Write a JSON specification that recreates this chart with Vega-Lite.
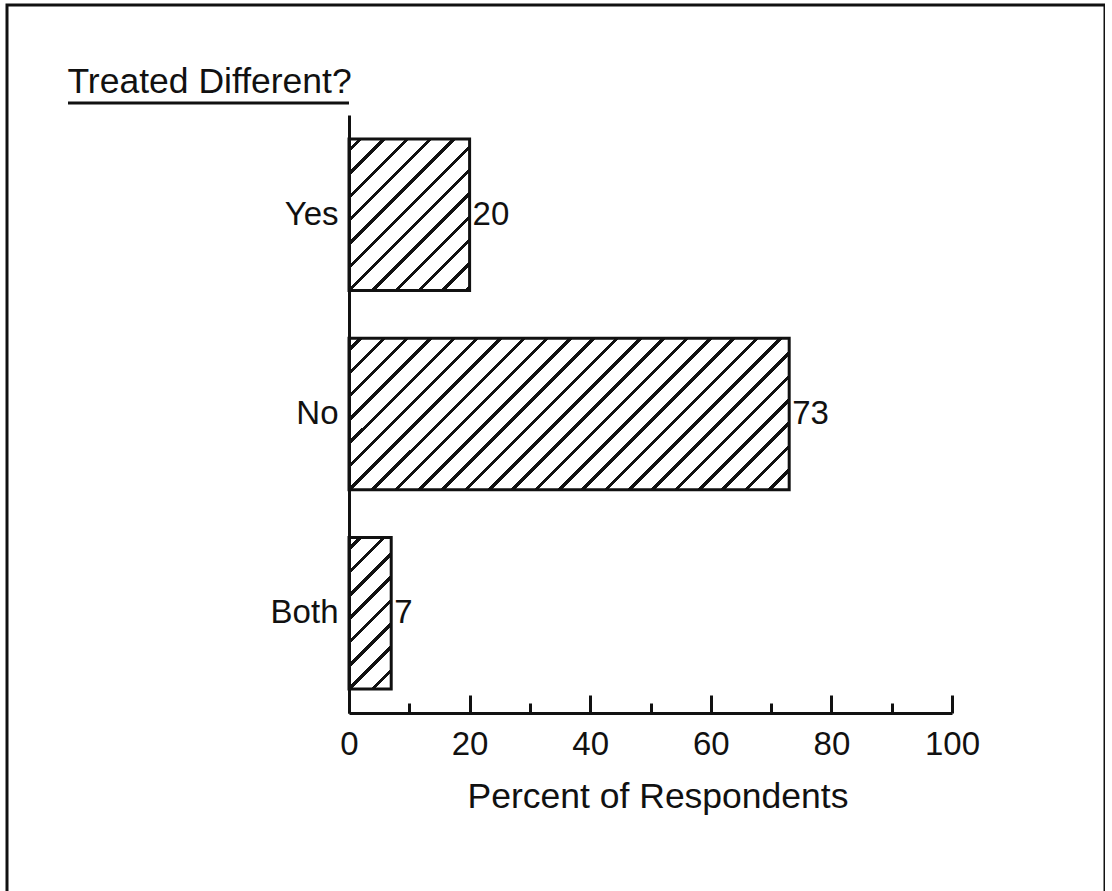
{
  "$schema": "https://vega.github.io/schema/vega-lite/v6.json",
  "width": 1098,
  "height": 888,
  "autosize": {"type": "none"},
  "padding": {"left": 7, "top": 5, "right": 0, "bottom": 0},
  "background": "white",
  "config": {
    "font": "Liberation Sans",
    "view": {"stroke": "#111", "strokeWidth": 3}
  },
  "data": {
    "values": [
      {"answer": "Yes", "pct": 20},
      {"answer": "No", "pct": 73},
      {"answer": "Both", "pct": 7}
    ]
  },
  "layer": [
    {
      "data": {"values": [{"underline": "title"}]},
      "mark": {"type": "rule", "stroke": "#111", "strokeWidth": 3},
      "encoding": {
        "x": {"datum": -46.6, "type": "quantitative"},
        "x2": {"datum": 0},
        "y": {"value": 98}
      }
    },
    {
      "encoding": {
        "x": {
          "field": "pct",
          "type": "quantitative",
          "scale": {"domain": [0, 100], "range": [342, 945], "nice": false, "zero": true},
          "axis": {
            "title": "Percent of Respondents",
            "titleFontSize": 35.5,
            "titleFontWeight": "normal",
            "titleColor": "#111",
            "titleBaseline": "alphabetic",
            "titleAlign": "center",
            "titleX": 650.5,
            "titleY": 94,
            "values": [0, 10, 20, 30, 40, 50, 60, 70, 80, 90, 100],
            "labelExpr": "datum.value % 20 === 0 ? datum.label : ''",
            "labelFontSize": 33,
            "labelColor": "#111",
            "labelBaseline": "alphabetic",
            "labelPadding": 59,
            "labelFlush": false,
            "labelOverlap": false,
            "tickSize": {"condition": {"test": "datum.value % 20 === 0", "value": -18}, "value": -10},
            "tickWidth": 3,
            "tickColor": "#111",
            "domainWidth": 3,
            "domainColor": "#111",
            "grid": false,
            "offset": -180,
            "orient": "bottom",
            "zindex": 1
          }
        },
        "y": {
          "field": "answer",
          "type": "nominal",
          "sort": ["Yes", "No", "Both"],
          "scale": {"range": [110, 708], "paddingInner": 0.24, "paddingOuter": 0.12},
          "axis": {
            "title": "Treated Different?",
            "titleAngle": 0,
            "titleAlign": "left",
            "titleBaseline": "alphabetic",
            "titleX": -282,
            "titleY": 87,
            "titleFontSize": 35.5,
            "titleFontWeight": "normal",
            "titleColor": "#111",
            "labelFontSize": 33,
            "labelColor": "#111",
            "labelPadding": 11,
            "ticks": false,
            "domainWidth": 3,
            "domainColor": "#111",
            "grid": false,
            "offset": -342,
            "orient": "left",
            "zindex": 1
          }
        }
      },
      "layer": [
        {
          "transform": [{"filter": "datum.answer === 'Yes'"}],
          "mark": {
            "type": "bar",
            "stroke": "#111",
            "strokeWidth": 3,
            "fill": {
              "gradient": "linear", "x1": 0, "y1": 0, "x2": 0.9006, "y2": 1.1313,
              "stops": [
                {"offset": 0.0337, "color": "#fff"}, {"offset": 0.0337, "color": "#111"}, {"offset": 0.0497, "color": "#111"}, {"offset": 0.0497, "color": "#fff"},
                {"offset": 0.1170, "color": "#fff"}, {"offset": 0.1170, "color": "#111"}, {"offset": 0.1330, "color": "#111"}, {"offset": 0.1330, "color": "#fff"},
                {"offset": 0.2003, "color": "#fff"}, {"offset": 0.2003, "color": "#111"}, {"offset": 0.2163, "color": "#111"}, {"offset": 0.2163, "color": "#fff"},
                {"offset": 0.2837, "color": "#fff"}, {"offset": 0.2837, "color": "#111"}, {"offset": 0.2997, "color": "#111"}, {"offset": 0.2997, "color": "#fff"},
                {"offset": 0.3670, "color": "#fff"}, {"offset": 0.3670, "color": "#111"}, {"offset": 0.3830, "color": "#111"}, {"offset": 0.3830, "color": "#fff"},
                {"offset": 0.4503, "color": "#fff"}, {"offset": 0.4503, "color": "#111"}, {"offset": 0.4663, "color": "#111"}, {"offset": 0.4663, "color": "#fff"},
                {"offset": 0.5337, "color": "#fff"}, {"offset": 0.5337, "color": "#111"}, {"offset": 0.5497, "color": "#111"}, {"offset": 0.5497, "color": "#fff"},
                {"offset": 0.6170, "color": "#fff"}, {"offset": 0.6170, "color": "#111"}, {"offset": 0.6330, "color": "#111"}, {"offset": 0.6330, "color": "#fff"},
                {"offset": 0.7003, "color": "#fff"}, {"offset": 0.7003, "color": "#111"}, {"offset": 0.7163, "color": "#111"}, {"offset": 0.7163, "color": "#fff"},
                {"offset": 0.7837, "color": "#fff"}, {"offset": 0.7837, "color": "#111"}, {"offset": 0.7997, "color": "#111"}, {"offset": 0.7997, "color": "#fff"},
                {"offset": 0.8670, "color": "#fff"}, {"offset": 0.8670, "color": "#111"}, {"offset": 0.8830, "color": "#111"}, {"offset": 0.8830, "color": "#fff"},
                {"offset": 0.9503, "color": "#fff"}, {"offset": 0.9503, "color": "#111"}, {"offset": 0.9663, "color": "#111"}, {"offset": 0.9663, "color": "#fff"}
              ]
            }
          }
        },
        {
          "transform": [{"filter": "datum.answer === 'No'"}],
          "mark": {
            "type": "bar",
            "stroke": "#111",
            "strokeWidth": 3,
            "fill": {
              "gradient": "linear", "x1": 0, "y1": 0, "x2": 1.2321, "y2": 0.4241,
              "stops": [
                {"offset": 0.0155, "color": "#fff"}, {"offset": 0.0155, "color": "#111"}, {"offset": 0.0229, "color": "#111"}, {"offset": 0.0229, "color": "#fff"},
                {"offset": 0.0540, "color": "#fff"}, {"offset": 0.0540, "color": "#111"}, {"offset": 0.0614, "color": "#111"}, {"offset": 0.0614, "color": "#fff"},
                {"offset": 0.0925, "color": "#fff"}, {"offset": 0.0925, "color": "#111"}, {"offset": 0.0999, "color": "#111"}, {"offset": 0.0999, "color": "#fff"},
                {"offset": 0.1309, "color": "#fff"}, {"offset": 0.1309, "color": "#111"}, {"offset": 0.1383, "color": "#111"}, {"offset": 0.1383, "color": "#fff"},
                {"offset": 0.1694, "color": "#fff"}, {"offset": 0.1694, "color": "#111"}, {"offset": 0.1768, "color": "#111"}, {"offset": 0.1768, "color": "#fff"},
                {"offset": 0.2078, "color": "#fff"}, {"offset": 0.2078, "color": "#111"}, {"offset": 0.2152, "color": "#111"}, {"offset": 0.2152, "color": "#fff"},
                {"offset": 0.2463, "color": "#fff"}, {"offset": 0.2463, "color": "#111"}, {"offset": 0.2537, "color": "#111"}, {"offset": 0.2537, "color": "#fff"},
                {"offset": 0.2848, "color": "#fff"}, {"offset": 0.2848, "color": "#111"}, {"offset": 0.2922, "color": "#111"}, {"offset": 0.2922, "color": "#fff"},
                {"offset": 0.3232, "color": "#fff"}, {"offset": 0.3232, "color": "#111"}, {"offset": 0.3306, "color": "#111"}, {"offset": 0.3306, "color": "#fff"},
                {"offset": 0.3617, "color": "#fff"}, {"offset": 0.3617, "color": "#111"}, {"offset": 0.3691, "color": "#111"}, {"offset": 0.3691, "color": "#fff"},
                {"offset": 0.4001, "color": "#fff"}, {"offset": 0.4001, "color": "#111"}, {"offset": 0.4075, "color": "#111"}, {"offset": 0.4075, "color": "#fff"},
                {"offset": 0.4386, "color": "#fff"}, {"offset": 0.4386, "color": "#111"}, {"offset": 0.4460, "color": "#111"}, {"offset": 0.4460, "color": "#fff"},
                {"offset": 0.4771, "color": "#fff"}, {"offset": 0.4771, "color": "#111"}, {"offset": 0.4845, "color": "#111"}, {"offset": 0.4845, "color": "#fff"},
                {"offset": 0.5155, "color": "#fff"}, {"offset": 0.5155, "color": "#111"}, {"offset": 0.5229, "color": "#111"}, {"offset": 0.5229, "color": "#fff"},
                {"offset": 0.5540, "color": "#fff"}, {"offset": 0.5540, "color": "#111"}, {"offset": 0.5614, "color": "#111"}, {"offset": 0.5614, "color": "#fff"},
                {"offset": 0.5925, "color": "#fff"}, {"offset": 0.5925, "color": "#111"}, {"offset": 0.5999, "color": "#111"}, {"offset": 0.5999, "color": "#fff"},
                {"offset": 0.6309, "color": "#fff"}, {"offset": 0.6309, "color": "#111"}, {"offset": 0.6383, "color": "#111"}, {"offset": 0.6383, "color": "#fff"},
                {"offset": 0.6694, "color": "#fff"}, {"offset": 0.6694, "color": "#111"}, {"offset": 0.6768, "color": "#111"}, {"offset": 0.6768, "color": "#fff"},
                {"offset": 0.7078, "color": "#fff"}, {"offset": 0.7078, "color": "#111"}, {"offset": 0.7152, "color": "#111"}, {"offset": 0.7152, "color": "#fff"},
                {"offset": 0.7463, "color": "#fff"}, {"offset": 0.7463, "color": "#111"}, {"offset": 0.7537, "color": "#111"}, {"offset": 0.7537, "color": "#fff"},
                {"offset": 0.7848, "color": "#fff"}, {"offset": 0.7848, "color": "#111"}, {"offset": 0.7922, "color": "#111"}, {"offset": 0.7922, "color": "#fff"},
                {"offset": 0.8232, "color": "#fff"}, {"offset": 0.8232, "color": "#111"}, {"offset": 0.8306, "color": "#111"}, {"offset": 0.8306, "color": "#fff"},
                {"offset": 0.8617, "color": "#fff"}, {"offset": 0.8617, "color": "#111"}, {"offset": 0.8691, "color": "#111"}, {"offset": 0.8691, "color": "#fff"},
                {"offset": 0.9001, "color": "#fff"}, {"offset": 0.9001, "color": "#111"}, {"offset": 0.9075, "color": "#111"}, {"offset": 0.9075, "color": "#fff"},
                {"offset": 0.9386, "color": "#fff"}, {"offset": 0.9386, "color": "#111"}, {"offset": 0.9460, "color": "#111"}, {"offset": 0.9460, "color": "#fff"},
                {"offset": 0.9771, "color": "#fff"}, {"offset": 0.9771, "color": "#111"}, {"offset": 0.9845, "color": "#111"}, {"offset": 0.9845, "color": "#fff"}
              ]
            }
          }
        },
        {
          "transform": [{"filter": "datum.answer === 'Both'"}],
          "mark": {
            "type": "bar",
            "stroke": "#111",
            "strokeWidth": 3,
            "fill": {
              "gradient": "linear", "x1": 0, "y1": 0, "x2": 0.3584, "y2": 1.2863,
              "stops": [
                {"offset": 0.0448, "color": "#fff"}, {"offset": 0.0448, "color": "#111"}, {"offset": 0.0664, "color": "#111"}, {"offset": 0.0664, "color": "#fff"},
                {"offset": 0.1559, "color": "#fff"}, {"offset": 0.1559, "color": "#111"}, {"offset": 0.1775, "color": "#111"}, {"offset": 0.1775, "color": "#fff"},
                {"offset": 0.2670, "color": "#fff"}, {"offset": 0.2670, "color": "#111"}, {"offset": 0.2886, "color": "#111"}, {"offset": 0.2886, "color": "#fff"},
                {"offset": 0.3781, "color": "#fff"}, {"offset": 0.3781, "color": "#111"}, {"offset": 0.3997, "color": "#111"}, {"offset": 0.3997, "color": "#fff"},
                {"offset": 0.4892, "color": "#fff"}, {"offset": 0.4892, "color": "#111"}, {"offset": 0.5108, "color": "#111"}, {"offset": 0.5108, "color": "#fff"},
                {"offset": 0.6003, "color": "#fff"}, {"offset": 0.6003, "color": "#111"}, {"offset": 0.6219, "color": "#111"}, {"offset": 0.6219, "color": "#fff"},
                {"offset": 0.7114, "color": "#fff"}, {"offset": 0.7114, "color": "#111"}, {"offset": 0.7330, "color": "#111"}, {"offset": 0.7330, "color": "#fff"},
                {"offset": 0.8225, "color": "#fff"}, {"offset": 0.8225, "color": "#111"}, {"offset": 0.8441, "color": "#111"}, {"offset": 0.8441, "color": "#fff"},
                {"offset": 0.9336, "color": "#fff"}, {"offset": 0.9336, "color": "#111"}, {"offset": 0.9552, "color": "#111"}, {"offset": 0.9552, "color": "#fff"}
              ]
            }
          }
        },
        {
          "mark": {"type": "text", "align": "left", "baseline": "middle", "dx": 3, "fontSize": 33, "color": "#111"},
          "encoding": {"text": {"field": "pct", "type": "quantitative"}}
        }
      ]
    }
  ]
}
